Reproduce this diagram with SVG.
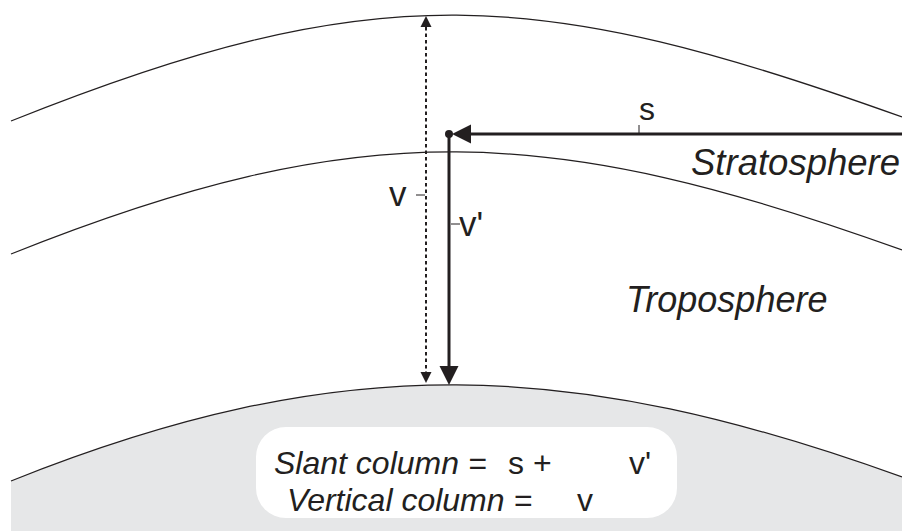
<svg xmlns="http://www.w3.org/2000/svg" width="902" height="531" viewBox="0 0 902 531">
<style>
.layer{fill:none;stroke:#231f20;stroke-width:1.2}
.t{font-family:"Liberation Sans",Arial,sans-serif;fill:#231f20}
.i{font-style:italic}
.tick{stroke:#231f20;stroke-width:1}
.thick{stroke:#231f20;stroke-width:3;fill:none}
.dot{stroke:#231f20;stroke-width:2;stroke-dasharray:3.5 3;fill:none}
</style>
<defs>
<marker id="big" markerUnits="userSpaceOnUse" markerWidth="20" markerHeight="20" refX="0" refY="9.5" orient="auto" overflow="visible">
<path d="M0,0 L19,9.5 L0,19 Z" fill="#231f20"/>
</marker>
<marker id="small" markerUnits="userSpaceOnUse" markerWidth="12" markerHeight="12" refX="0" refY="5.5" orient="auto-start-reverse" overflow="visible">
<path d="M0,0 L11,5.5 L0,11 Z" fill="#231f20"/>
</marker>
</defs>
<rect width="902" height="531" fill="#ffffff"/>
<g id="ground">
<path d="M11,481 C341,349 572,358 902,477 L902,531 L11,531 Z" fill="#e6e7e8"/>
<path class="layer" d="M11,481 C341,349 572,358 902,477"/>
</g>
<g id="stratosphere-top">
<path class="layer" d="M11,121 C376,-25 537,-14 902,117"/>
</g>
<g id="tropopause">
<path class="layer" d="M11,254 C362,113.6 551,123.6 902,250"/>
</g>
<g id="connectors">
<path class="dot" d="M426,27 L426,372" marker-start="url(#small)" marker-end="url(#small)"/>
<path class="thick" d="M902,134 L471,134" marker-end="url(#big)"/>
<path class="thick" d="M449,134 L449,366" marker-end="url(#big)"/>
<circle cx="449" cy="134" r="4" fill="#231f20"/>
<line class="tick" x1="639" y1="125" x2="639" y2="133"/>
<line class="tick" x1="416" y1="195" x2="425" y2="195"/>
<line class="tick" x1="451" y1="224" x2="460" y2="224"/>
</g>
<g id="labels">
<text class="t" x="647" y="120" font-size="32" text-anchor="middle">s</text>
<text class="t" x="389" y="206" font-size="35">v</text>
<text class="t" x="459" y="236" font-size="35">v'</text>
<text class="t i" x="691" y="175" font-size="36.5">Stratosphere</text>
<text class="t i" x="626" y="312" font-size="36">Troposphere</text>
</g>
<g id="summary">
<rect x="256" y="427" width="421" height="91" rx="30" fill="#ffffff"/>
<text class="t i" x="274" y="474" font-size="32">Slant column =</text>
<text class="t" x="508" y="474" font-size="32">s +</text>
<text class="t" x="629" y="474" font-size="32">v'</text>
<text class="t i" x="287" y="511" font-size="32">Vertical column =</text>
<text class="t" x="577" y="511" font-size="32">v</text>
</g>
</svg>
